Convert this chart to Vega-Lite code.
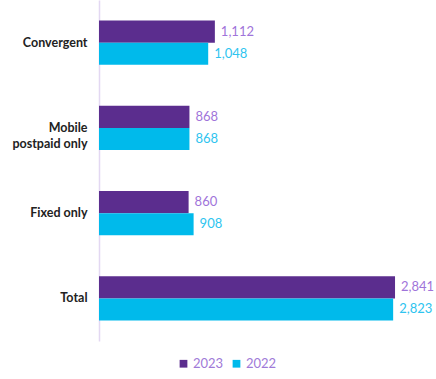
{
  "$schema": "https://vega.github.io/schema/vega-lite/v6.json",
  "width": 330,
  "height": 341,
  "autosize": {"type": "none"},
  "padding": {"left": 99, "top": 0, "right": 7, "bottom": 38},
  "background": "white",
  "config": {"view": {"stroke": null}, "font": "Lato"},
  "data": {"values": [
    {"category": "Convergent", "year": "2023", "value": 1112},
    {"category": "Convergent", "year": "2022", "value": 1048},
    {"category": "Mobile postpaid only", "year": "2023", "value": 868},
    {"category": "Mobile postpaid only", "year": "2022", "value": 868},
    {"category": "Fixed only", "year": "2023", "value": 860},
    {"category": "Fixed only", "year": "2022", "value": 908},
    {"category": "Total", "year": "2023", "value": 2841},
    {"category": "Total", "year": "2022", "value": 2823}
  ]},
  "encoding": {
    "y": {
      "field": "category", "type": "nominal",
      "sort": ["Convergent", "Mobile postpaid only", "Fixed only", "Total"],
      "scale": {"paddingInner": 0.48, "paddingOuter": 0.24},
      "axis": {
        "title": null, "ticks": false, "labelPadding": 12,
        "labelFontWeight": "bold", "labelFontSize": 12.5, "labelColor": "#222222",
        "domainColor": "#E3D8F2", "domainWidth": 1.5,
        "labelLineHeight": 16,
        "labelExpr": "datum.label == 'Mobile postpaid only' ? ['Mobile', 'postpaid only'] : datum.label"
      }
    },
    "yOffset": {"field": "year", "type": "nominal", "sort": ["2023", "2022"], "scale": {"paddingInner": 0}},
    "x": {"field": "value", "type": "quantitative", "scale": {"domain": [0, 3167]}, "axis": null}
  },
  "layer": [
    {
      "mark": {"type": "bar"},
      "encoding": {
        "color": {
          "field": "year", "type": "nominal",
          "scale": {"domain": ["2023", "2022"], "range": ["#5B2D8E", "#00BAEB"]},
          "legend": {
            "title": null, "orient": "none", "direction": "horizontal",
            "legendX": 78, "legendY": 357, "symbolType": "square", "symbolSize": 60,
            "labelFontSize": 13, "labelColor": "#A07AD8", "columnPadding": 6, "labelOffset": 3
          }
        }
      }
    },
    {
      "mark": {"type": "text", "align": "left", "baseline": "middle", "dx": 6, "fontSize": 13},
      "encoding": {
        "text": {"field": "value", "type": "quantitative", "format": ","},
        "color": {"condition": {"test": "datum.year == '2023'", "value": "#9F74DA"}, "value": "#2EC4EF"}
      }
    }
  ]
}
